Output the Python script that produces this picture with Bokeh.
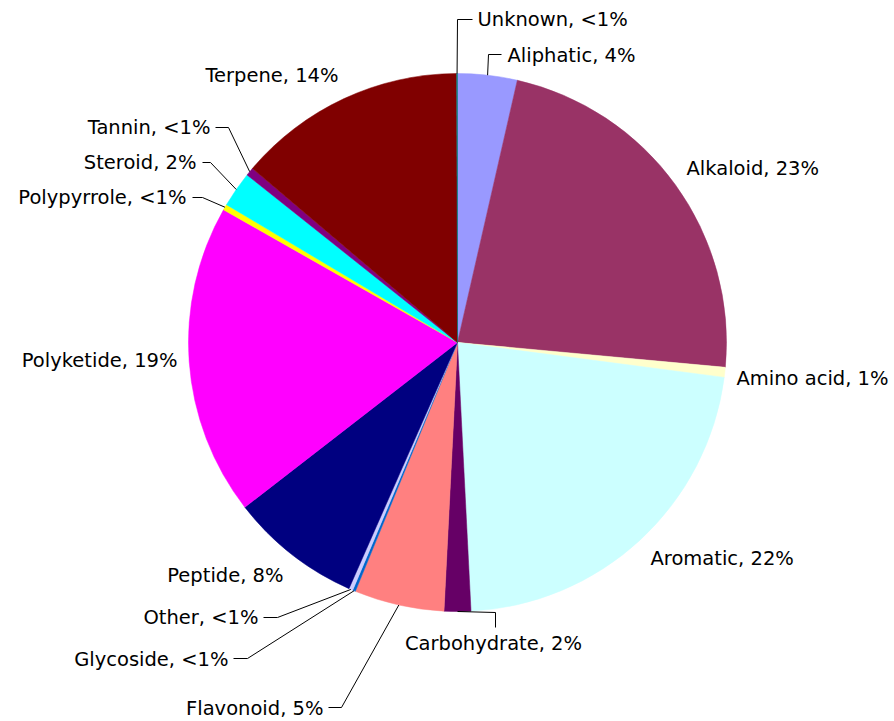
import math
from bokeh.plotting import figure
from bokeh.models import Range1d, ColumnDataSource
from bokeh.core.properties import value
from bokeh.embed import file_html
from bokeh.resources import INLINE

# ---- data ----
categories = ["Aliphatic", "Alkaloid", "Amino acid", "Aromatic", "Carbohydrate",
              "Flavonoid", "Glycoside", "Other", "Peptide", "Polyketide",
              "Polypyrrole", "Steroid", "Tannin", "Terpene", "Unknown"]
shares = [3.57, 22.9, 0.6, 22.13, 1.6, 5.4, 0.17, 0.24, 7.9, 18.7,
          0.35, 2.14, 0.5, 13.75, 0.05]
pct_labels = ["4%", "23%", "1%", "22%", "2%", "5%", "<1%", "<1%", "8%", "19%",
              "<1%", "2%", "<1%", "14%", "<1%"]
colors = ["#9999FF", "#993366", "#FFFFCC", "#CCFFFF", "#660066", "#FF8080",
          "#0066CC", "#CCCCFF", "#000080", "#FF00FF", "#FFFF00", "#00FFFF",
          "#800080", "#800000", "#008080"]

# ---- layout (reference pixel coordinates) ----
W, H = 894, 721
CX, CY, R = 457, 342, 269
FONT = "DejaVu Sans"
FS = "19.5px"
# label anchor x, y, align ; leader elbow and end points (None = no leader)
label_layout = {
    "Aliphatic":    (507, 55, "left",   [(488, 54), (501, 54)]),
    "Alkaloid":     (686, 168, "left",  None),
    "Amino acid":   (736, 378, "left",  None),
    "Aromatic":     (650, 558, "left",  None),
    "Carbohydrate": (493, 643, "center", [(495, 612), (495, 627)]),
    "Flavonoid":    (323, 708, "right", [(341, 707), (328, 707)]),
    "Glycoside":    (228, 659, "right", [(247, 658), (233, 658)]),
    "Other":        (258, 617, "right", [(277, 617), (263, 617)]),
    "Peptide":      (283, 575, "right", None),
    "Polyketide":   (177, 360, "right", None),
    "Polypyrrole":  (186, 197, "right", [(202, 197), (192, 197)]),
    "Steroid":      (196, 162, "right", [(210, 162), (202, 162)]),
    "Tannin":       (210, 127, "right", [(228, 127), (215, 127)]),
    "Terpene":      (338, 75, "right",  None),
    "Unknown":      (477, 19, "left",   [(457, 19), (472, 19)]),
}

def fy(y):
    return H - y

p = figure(width=W, height=H, output_backend="svg", toolbar_location=None,
           x_range=Range1d(0, W), y_range=Range1d(0, H), min_border=0)
p.axis.visible = False
p.grid.visible = False
p.outline_line_color = None
p.background_fill_color = "white"
p.border_fill_color = "white"

total = sum(shares)
starts, ends, mids = [], [], []
cum = 0.0
for s in shares:
    a0 = math.pi / 2 - 2 * math.pi * cum / total
    cum += s
    a1 = math.pi / 2 - 2 * math.pi * cum / total
    starts.append(a1)
    ends.append(a0)
    mids.append((a0 + a1) / 2)

src = ColumnDataSource(dict(x=[CX] * len(shares), y=[fy(CY)] * len(shares),
                            start=starts, end=ends, color=colors))
p.wedge(x="x", y="y", radius=R, start_angle="start", end_angle="end",
        direction="anticlock", fill_color="color", line_color="color",
        line_width=0.5, source=src)

for cat, pl, m in zip(categories, pct_labels, mids):
    tx, ty, align, leader = label_layout[cat]
    if leader is not None:
        ex = CX + R * math.cos(m)
        ey = fy(CY) + R * math.sin(m)
        xs = [ex] + [pt[0] for pt in leader]
        ys = [ey] + [fy(pt[1]) for pt in leader]
        p.line(xs, ys, line_color="black", line_width=1)
    p.text(x=[tx], y=[fy(ty)], text=[f"{cat}, {pl}"], text_align=align,
           text_baseline="middle", text_font=value(FONT), text_font_size=FS,
           text_color="black")

open("out.html", "w").write(file_html(p, INLINE))
